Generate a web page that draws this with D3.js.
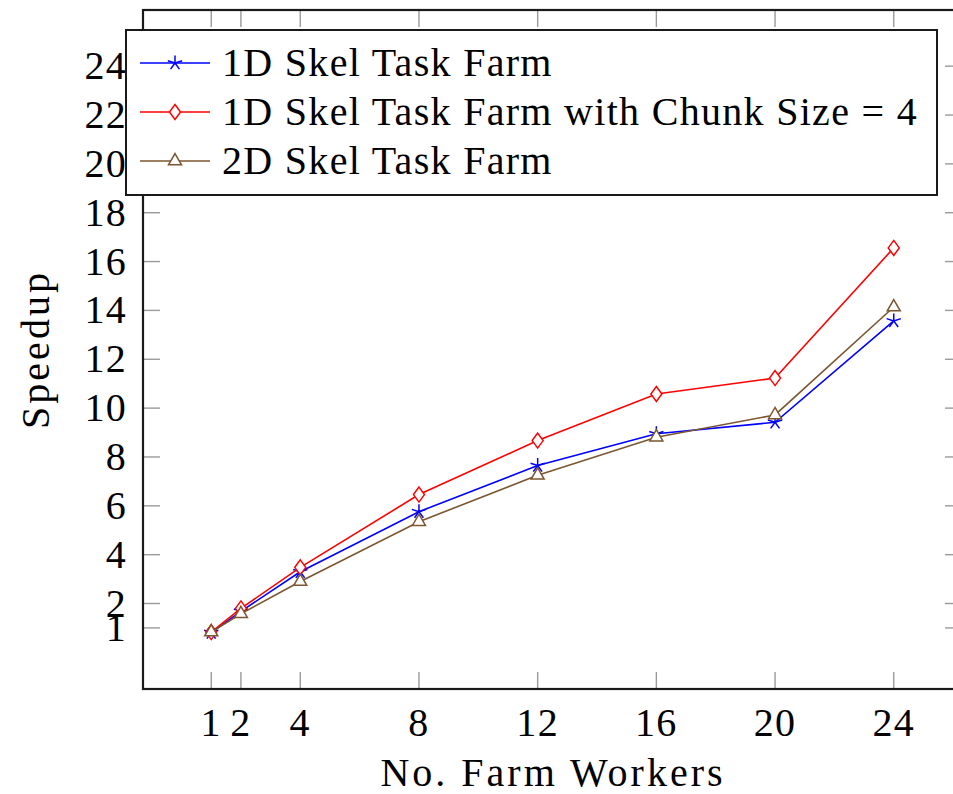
<!DOCTYPE html>
<html>
<head>
<meta charset="utf-8">
<script src="https://cdn.jsdelivr.net/npm/d3@7"></script>
<style>
  body { margin: 0; background: #fff; }
  svg { display: block; }
  text { font-family: "Liberation Serif", "Times New Roman", serif; fill: #000; letter-spacing: 1.3px; }
</style>
</head>
<body>
<div id="chart"></div>
<script>
// data
var workers = [1, 2, 4, 8, 12, 16, 20, 24];
var seriesNames = ['1D Skel Task Farm', '1D Skel Task Farm with Chunk Size = 4', '2D Skel Task Farm'];
var skel1D = [0.81, 1.68, 3.30, 5.76, 7.65, 8.95, 9.42, 13.57];
var skel1DChunk = [0.83, 1.80, 3.48, 6.46, 8.67, 10.58, 11.23, 16.56];
var skel2D = [0.83, 1.58, 2.90, 5.35, 7.25, 8.81, 9.72, 14.14];
var xTicks = [1, 2, 4, 8, 12, 16, 20, 24];
var yTicks = [1, 2, 4, 6, 8, 10, 12, 14, 16, 18, 20, 22, 24];
var xTitle = 'No. Farm Workers';
var yTitle = 'Speedup';

var colors = ['#0000ff', '#ff0000', '#7b5631'];
var marks = ['star', 'diamond', 'triangle'];

makeChart();

function makeChart() {
    var fullwidth = 953;
    var fullheight = 794;
    var fontSize = 40;

    var svg = d3.select('#chart')
        .append('svg')
        .attr('width', fullwidth)
        .attr('height', fullheight);

    var x = d3.scaleLinear().domain([-1.3, 26.3]).range([143, 962]);
    var y = d3.scaleLinear().domain([-1.5, 26.3]).range([689, 10]);

    var left = x.range()[0], right = x.range()[1];
    var yTop = y.range()[1], bottom = y.range()[0];
    var tickLen = 17;

    // ticks (pgfplots style: inside, on all four sides)
    var tickG = svg.append('g')
        .attr('stroke', '#9a9a9a')
        .attr('stroke-width', 1.4);

    xTicks.forEach(function(t) {
        tickG.append('line')
            .attr('x1', x(t)).attr('x2', x(t))
            .attr('y1', bottom).attr('y2', bottom - tickLen);
        tickG.append('line')
            .attr('x1', x(t)).attr('x2', x(t))
            .attr('y1', yTop).attr('y2', yTop + tickLen);
    });
    yTicks.forEach(function(t) {
        tickG.append('line')
            .attr('x1', left).attr('x2', left + tickLen)
            .attr('y1', y(t)).attr('y2', y(t));
        tickG.append('line')
            .attr('x1', right).attr('x2', right - tickLen)
            .attr('y1', y(t)).attr('y2', y(t));
    });

    // axis box
    svg.append('rect')
        .attr('x', left).attr('y', yTop)
        .attr('width', right - left).attr('height', bottom - yTop)
        .attr('fill', 'none')
        .attr('stroke', '#1a1a1a')
        .attr('stroke-width', 2.2);

    // tick labels
    svg.append('g').selectAll('text')
        .data(xTicks).enter()
        .append('text')
        .attr('x', function(d) { return x(d); })
        .attr('y', 736)
        .attr('text-anchor', 'middle')
        .style('font-size', fontSize + 'px')
        .text(function(d) { return d; });

    svg.append('g').selectAll('text')
        .data(yTicks).enter()
        .append('text')
        .attr('x', 127)
        .attr('y', function(d) { return y(d) + 13; })
        .attr('text-anchor', 'end')
        .style('font-size', fontSize + 'px')
        .text(function(d) { return d; });

    // axis titles
    svg.append('text')
        .attr('x', 553)
        .attr('y', 786)
        .attr('text-anchor', 'middle')
        .style('font-size', fontSize + 'px')
        .style('letter-spacing', '3px')
        .text(xTitle);

    svg.append('text')
        .attr('transform', 'translate(49,' + ((yTop + bottom) / 2) + ') rotate(-90)')
        .attr('text-anchor', 'middle')
        .style('font-size', fontSize + 'px')
        .style('letter-spacing', '3px')
        .text(yTitle);

    ///////////// SERIES
    var allSeries = [skel1D, skel1DChunk, skel2D];
    var line = d3.line()
        .x(function(d) { return x(d[0]); })
        .y(function(d) { return y(d[1]); });

    allSeries.forEach(function(vals, i) {
        var pts = workers.map(function(w, j) { return [w, vals[j]]; });
        var g = svg.append('g');
        g.append('path')
            .datum(pts)
            .attr('d', line)
            .attr('fill', 'none')
            .attr('stroke', colors[i])
            .attr('stroke-width', 1.6);
        pts.forEach(function(p) {
            drawMark(g, marks[i], x(p[0]), y(p[1]), colors[i]);
        });
    });

    ///////////// LEGEND
    var legend = svg.append('g');
    legend.append('rect')
        .attr('x', 126).attr('y', 30)
        .attr('width', 811).attr('height', 165)
        .attr('fill', 'white')
        .attr('stroke', '#1a1a1a')
        .attr('stroke-width', 2);

    seriesNames.forEach(function(name, i) {
        var cy = 63 + i * 49;
        legend.append('line')
            .attr('x1', 140).attr('x2', 210)
            .attr('y1', cy).attr('y2', cy)
            .attr('stroke', colors[i])
            .attr('stroke-width', 1.6);
        drawMark(legend, marks[i], 175, cy, colors[i]);
        legend.append('text')
            .attr('x', 222)
            .attr('y', cy + 13)
            .style('font-size', fontSize + 'px')
            .text(name);
    });
}

///////////// MARKERS
function drawMark(g, type, cx, cy, color) {
    var r = 7.5;
    if (type === 'star') {
        var p = '';
        for (var i = 0; i < 5; i++) {
            var a = -Math.PI / 2 + i * 2 * Math.PI / 5;
            p += 'M' + cx + ',' + cy + 'L' + (cx + r * Math.cos(a)) + ',' + (cy + r * Math.sin(a));
        }
        g.append('path').attr('d', p)
            .attr('stroke', color).attr('stroke-width', 1.5).attr('fill', 'none');
    } else if (type === 'diamond') {
        g.append('path')
            .attr('d', 'M' + cx + ',' + (cy - r) + 'L' + (cx + 5.5) + ',' + cy +
                'L' + cx + ',' + (cy + r) + 'L' + (cx - 5.5) + ',' + cy + 'Z')
            .attr('stroke', color).attr('stroke-width', 1.5).attr('fill', 'white');
    } else {
        var pts = [-90, 30, 150].map(function(deg) {
            var a = deg * Math.PI / 180;
            return [cx + r * Math.cos(a), cy + r * Math.sin(a)];
        });
        g.append('path')
            .attr('d', 'M' + pts.join('L') + 'Z')
            .attr('stroke', color).attr('stroke-width', 1.5).attr('fill', 'white');
    }
}
</script>
</body>
</html>
